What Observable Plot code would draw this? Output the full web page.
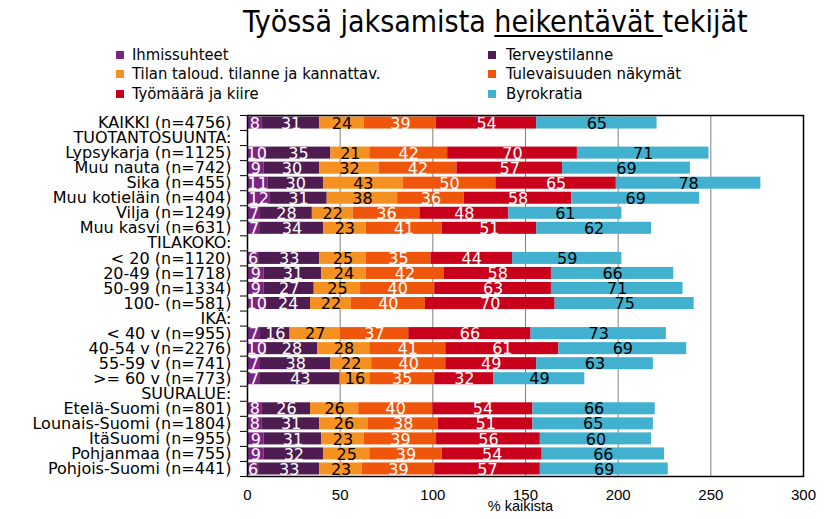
<!DOCTYPE html>
<html>
<head>
<meta charset="utf-8">
<script src="https://cdn.jsdelivr.net/npm/d3@7"></script>
<script src="https://cdn.jsdelivr.net/npm/@observablehq/plot@0.6"></script>
<style>
  html, body { margin: 0; padding: 0; background: #fff; }
  #wrap { position: relative; width: 834px; height: 519px; overflow: hidden; font-family: "DejaVu Sans", Verdana, sans-serif; }
  #title { position: absolute; left: 243px; top: 6px; font-family: "DejaVu Sans Condensed", "DejaVu Sans", sans-serif; font-size: 30px; line-height: 32px; white-space: nowrap; color: #000; }
  #title u { text-decoration-thickness: 2px; text-underline-offset: 3px; }
  .leg { position: absolute; font-family: "DejaVu Sans Condensed", "DejaVu Sans", sans-serif; font-size: 16.5px; line-height: 18px; white-space: nowrap; color: #000; }
  .leg span.sw { position: absolute; width: 8px; height: 8px; top: 5px; }
  #chart { position: absolute; left: 0; top: 105px; }
</style>
</head>
<body>
<div id="wrap">
  <div id="title">Työssä jaksamista <u>heikentävät </u>tekijät</div>
  <div id="legend"></div>
  <div id="chart"></div>
</div>
<script>
const categories = [
  "KAIKKI (n=4756)",
  "TUOTANTOSUUNTA:",
  "Lypsykarja (n=1125)",
  "Muu nauta (n=742)",
  "Sika (n=455)",
  "Muu kotieläin (n=404)",
  "Vilja (n=1249)",
  "Muu kasvi (n=631)",
  "TILAKOKO:",
  "< 20 (n=1120)",
  "20-49 (n=1718)",
  "50-99 (n=1334)",
  "100- (n=581)",
  "IKÄ:",
  "< 40 v (n=955)",
  "40-54 v (n=2276)",
  "55-59 v (n=741)",
  ">= 60 v (n=773)",
  "SUURALUE:",
  "Etelä-Suomi (n=801)",
  "Lounais-Suomi (n=1804)",
  "ItäSuomi (n=955)",
  "Pohjanmaa (n=755)",
  "Pohjois-Suomi (n=441)"
];

const seriesNames = [
  "Ihmissuhteet",
  "Terveystilanne",
  "Tilan taloud. tilanne ja kannattav.",
  "Tulevaisuuden näkymät",
  "Työmäärä ja kiire",
  "Byrokratia"
];

const ihmissuhteet     = [8, null, 10, 9, 11, 12, 7, 7, null, 6, 9, 9, 10, null, 7, 10, 7, 7, null, 8, 8, 9, 9, 6];
const terveystilanne   = [31, null, 35, 30, 30, 31, 28, 34, null, 33, 31, 27, 24, null, 16, 28, 38, 43, null, 26, 31, 31, 32, 33];
const talous           = [24, null, 21, 32, 43, 38, 22, 23, null, 25, 24, 25, 22, null, 27, 28, 22, 16, null, 26, 26, 23, 25, 23];
const tulevaisuus      = [39, null, 42, 42, 50, 36, 36, 41, null, 35, 42, 40, 40, null, 37, 41, 40, 35, null, 40, 38, 39, 39, 39];
const tyomaara         = [54, null, 70, 57, 65, 58, 48, 51, null, 44, 58, 63, 70, null, 66, 61, 49, 32, null, 54, 51, 56, 54, 57];
const byrokratia       = [65, null, 71, 69, 78, 69, 61, 62, null, 59, 66, 71, 75, null, 73, 69, 63, 49, null, 66, 65, 60, 66, 69];

const xTicks = [0, 50, 100, 150, 200, 250, 300];

const seriesValues = [ihmissuhteet, terveystilanne, talous, tulevaisuus, tyomaara, byrokratia];
const colors = ["#7b2383", "#4f1c52", "#f59120", "#f0560b", "#c8001b", "#41b1cf"];
const textColors = ["#fff", "#fff", "#000", "#fff", "#fff", "#000"];

// legend (row-major, two columns)
const legend = document.getElementById("legend");
seriesNames.forEach((name, k) => {
  const col = k % 2, row = Math.floor(k / 2);
  const div = document.createElement("div");
  div.className = "leg";
  div.style.left = (col === 0 ? 116 : 488) + "px";
  div.style.top = (46 + row * 19.3) + "px";
  div.style.paddingLeft = (col === 0 ? 16 : 18) + "px";
  div.innerHTML = `<span class="sw" style="left:0;background:${colors[k]}"></span>${name}`;
  legend.appendChild(div);
});

// build stacked segments
const segments = [];
categories.forEach((cat, i) => {
  let acc = 0;
  seriesValues.forEach((arr, s) => {
    const v = arr[i];
    if (v == null) return;
    segments.push({i, cat, s, series: seriesNames[s], value: v, x1: acc, x2: acc + v});
    acc += v;
  });
});

const n = categories.length;
const plot = Plot.plot({
  width: 834,
  height: 414,
  marginLeft: 247,
  marginRight: 31,
  marginTop: 10,
  marginBottom: 43,
  style: {fontFamily: "DejaVu Sans, Verdana, sans-serif", fontSize: "16px", background: "transparent", color: "#000"},
  x: {domain: [0, 300]},
  y: {domain: [-0.5, n - 0.5], reverse: true},
  color: {domain: seriesNames, range: colors},
  marks: [
    Plot.gridX([50, 100, 150, 200, 250], {stroke: "#808080", strokeOpacity: 1}),
    Plot.rectX(segments, {x1: "x1", x2: "x2", y1: d => d.i - 0.4, y2: d => d.i + 0.4, fill: "series"}),
    Plot.text(segments, {x: d => (d.x1 + d.x2) / 2, y: "i", text: d => String(d.value), fill: d => textColors[d.s], fontSize: 16, dy: 0.5}),
    Plot.frame({stroke: "#000", strokeWidth: 1.5}),
    Plot.axisY(d3.range(n), {tickSize: 0, tickPadding: 16, tickFormat: i => categories[i], fontSize: 16, label: null}),
    Plot.axisY(d3.range(n + 1).map(i => i - 0.5), {tickSize: 7, tickFormat: () => "", label: null, stroke: "#000"}),
    Plot.axisX(xTicks, {tickSize: 0, tickPadding: 13, fontSize: 15, fontFamily: "Liberation Sans, Arial, sans-serif", label: null}),
    Plot.text(["% kaikista"], {frameAnchor: "bottom", dy: 34, dx: -5, fontSize: 14.5, fontFamily: "Liberation Sans, Arial, sans-serif", fill: "#000"})
  ]
});
document.getElementById("chart").appendChild(plot);
</script>
</body>
</html>
